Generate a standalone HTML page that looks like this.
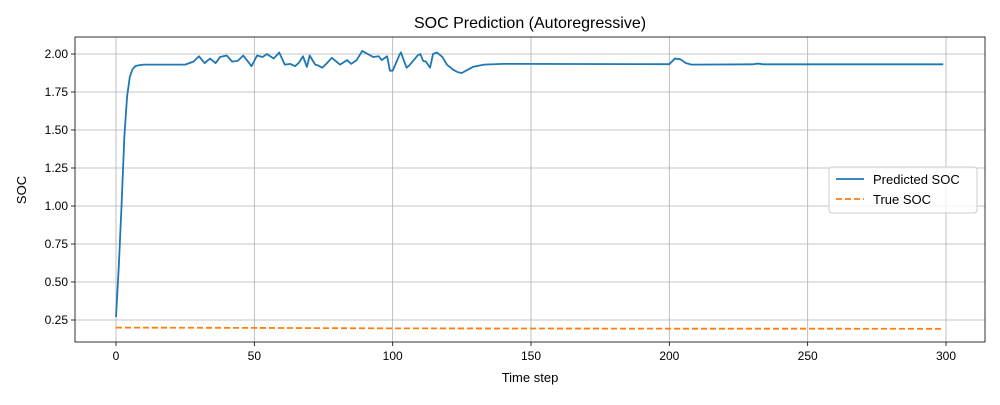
<!DOCTYPE html>
<html><head><meta charset="utf-8"><style>
body{margin:0;background:#fff;}
svg text{font-family:"Liberation Sans","DejaVu Sans",sans-serif;fill:#000;}
</style></head><body>
<svg id="chart" width="1000" height="400" xmlns="http://www.w3.org/2000/svg">
<rect width="1000" height="400" fill="#fff"/>
<text x="530" y="28" text-anchor="middle" font-size="16">SOC Prediction (Autoregressive)</text>
<g id="grid"></g>
<g id="ticks"></g>
<g id="series"></g>
<rect x="75" y="37" width="910" height="305" fill="none" stroke="#000" stroke-width="0.8"/>
<text x="530" y="382" text-anchor="middle" font-size="13">Time step</text>
<text x="26" y="190" text-anchor="middle" font-size="13" transform="rotate(-90 26 190)">SOC</text>
<g>
<rect x="829" y="167" width="148" height="46" rx="3" fill="#fff" fill-opacity="0.8" stroke="#ccc"/>
<line x1="836" y1="179" x2="864" y2="179" stroke="#1f77b4" stroke-width="1.8"/>
<text x="873" y="184" font-size="13">Predicted SOC</text>
<line x1="836" y1="199" x2="864" y2="199" stroke="#ff7f0e" stroke-width="1.8" stroke-dasharray="6,3"/>
<text x="873" y="204" font-size="13">True SOC</text>
</g>
</svg>
<script>
const xTicks=[0,50,100,150,200,250,300];
const yTicks=[0.25,0.50,0.75,1.00,1.25,1.50,1.75,2.00];
const predT=[0,1,2,3,4,5,6,7,8,10,25,28,30,32,34,36,37.6,40,42,44,46,49,51,53,54.5,57,59,61,63,64.7,66,67.6,69,70,72,73,74.5,76,78,81,83.5,85,87,89,91,93,95,96,98,99,100,102.6,103,105,106,109,110,111,112,113.5,114.6,116,118,119.6,122,123.6,125,127,129,133,140,200,202,204,206,208,230,232,234,299];
const predV=[0.27,0.6,1.0,1.45,1.72,1.85,1.9,1.92,1.925,1.93,1.93,1.95,1.985,1.94,1.97,1.94,1.98,1.99,1.95,1.955,1.99,1.92,1.99,1.98,2.0,1.97,2.01,1.93,1.935,1.92,1.94,1.985,1.915,1.99,1.93,1.925,1.91,1.935,1.975,1.93,1.96,1.935,1.96,2.02,2.0,1.98,1.985,1.96,1.985,1.89,1.89,2.0,2.01,1.91,1.925,1.99,2.0,1.955,1.95,1.91,2.0,2.01,1.98,1.93,1.895,1.88,1.875,1.895,1.915,1.93,1.935,1.933,1.97,1.965,1.94,1.93,1.932,1.937,1.932,1.932];
const trueT=[0,50,100,150,200,250,299];
const trueV=[0.20,0.198,0.195,0.194,0.193,0.193,0.192];
const NS="http://www.w3.org/2000/svg";
const X=t=>116+(t-0)*(946-116)/300;
const Y=v=>54+(2-v)*152;
const grid=document.getElementById('grid'),ticks=document.getElementById('ticks'),ser=document.getElementById('series');
function mk(tag,attrs,parent){const e=document.createElementNS(NS,tag);for(const k in attrs)e.setAttribute(k,attrs[k]);parent.appendChild(e);return e;}
xTicks.forEach(t=>{
 const g=mk('line',{x1:X(t),x2:X(t),y1:37,y2:342,stroke:'#b0b0b0','stroke-width':0.8},grid);
 
 
 mk('line',{x1:X(t),x2:X(t),y1:342,y2:346,stroke:'#000','stroke-width':0.8},ticks);
 const tx=mk('text',{x:X(t),y:360,'text-anchor':'middle','font-size':12},ticks);tx.textContent=t;
 
 
});
yTicks.forEach(v=>{
 const g=mk('line',{x1:75,x2:985,y1:Y(v),y2:Y(v),stroke:'#b0b0b0','stroke-width':0.8},grid);
 
 
 mk('line',{x1:71,x2:75,y1:Y(v),y2:Y(v),stroke:'#000','stroke-width':0.8},ticks);
 const tx=mk('text',{x:68,y:Y(v)+4,'text-anchor':'end','font-size':12},ticks);tx.textContent=v.toFixed(2);
 
 
});
const p1=mk('polyline',{points:predT.map((t,i)=>X(t)+','+Y(predV[i])).join(' '),fill:'none',stroke:'#1f77b4','stroke-width':1.8,'stroke-linejoin':'round'},ser);


const p2=mk('polyline',{points:trueT.map((t,i)=>X(t)+','+Y(trueV[i])).join(' '),fill:'none',stroke:'#ff7f0e','stroke-width':1.8,'stroke-dasharray':'6,3'},ser);


</script>
</body></html>
